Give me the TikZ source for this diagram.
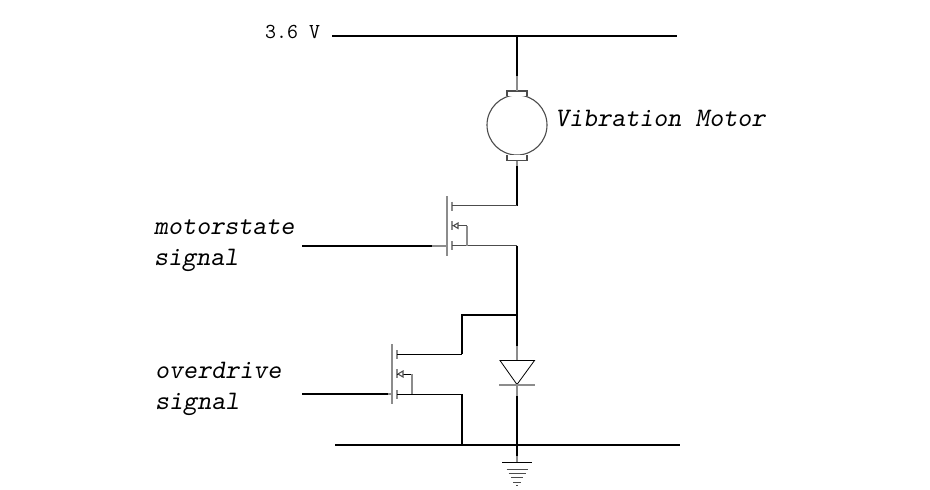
\documentclass[tikz,border=0pt]{standalone}
\usetikzlibrary{calc}
\tikzset{
	wire/.style={black, line width = 2pt},
	lead/.style={gray!90, line width = 2pt},
	thinwire/.style={black!70, line width = 1.2pt},
	part/.style={black!70, line width = 1.1pt},
	labeltext/.style={anchor=base west, inner sep=0pt, font=\fontsize{26.7}{28}\selectfont\ttfamily\slshape}
}
\begin{document}
\begin{tikzpicture}[x=1pt, y=-1pt]
	\useasboundingbox (0,0) rectangle (930,490);
	\fill[white] (0,0) rectangle (930,490);
	% rails and junctions
	\coordinate (railtopl) at (332,36);
	\coordinate (railtopr) at (677,36);
	\coordinate (railbotl) at (335,445);
	\coordinate (railbotr) at (680,445);
	\coordinate (topjoin) at (517,36);
	\coordinate (botjoin) at (517,445);
	\coordinate (tapjoin) at (517,315);
	\coordinate (tapcorner) at (462,315);
	\draw[wire](railtopl)--(railtopr);
	\draw[wire](railbotl)--(railbotr);
	\node[anchor=base west, inner sep=0pt, font=\fontsize{21.3}{22}\selectfont\ttfamily] (supply) at (265,38) {3.6 V};

	% motor
	\coordinate (motorin) at (517,76);
	\coordinate (motortop) at (517,91);
	\coordinate (motorbot) at (517,161);
	\coordinate (motorout) at (517,166);
	\node[circle, draw=black!70, line width=1.1pt, minimum size=60pt, inner sep=0pt] (motor) at (517,125) {};
	\draw[part, fill=white](507,96)--(507,91)--(527,91)--(527,96);
	\draw[part, fill=white](507,155)--(507,160.5)--(527,160.5)--(527,155);
	\draw[wire](topjoin)--(motorin);
	\draw[lead](motorin)--(motortop);
	\draw[lead](motorbot)--(motorout);
	\node[labeltext] (motorlabel) at (555,126) {Vibration Motor};

	% upper transistor
	\coordinate (upd) at (452,205.7);
	\coordinate (upb) at (452,225.7);
	\coordinate (ups) at (452,245.7);
	\coordinate (updr) at (517,205.7);
	\coordinate (upsr) at (517,245.7);
	\coordinate (upbr) at (467,225.7);
	\coordinate (upbs) at (467,245.7);
	\coordinate (upgate) at (447,245.7);
	\coordinate (upgatei) at (432,245.7);
	\coordinate (upsig) at (302,245.7);
	\draw[lead](447,196)--(447,256);
	\foreach \y in {201.7,221,241}
	\draw[lead] (452,\y)--(452,\y+9);
	\draw[wire](motorout)--(updr);
	\draw[thinwire](upd)--(updr);
	\draw[thinwire](ups)--(upsr);
	\draw[thinwire](upb)--(upbr);
	\draw[lead, line width = 1.5pt](upbr)--(upbs);
	\draw[part, fill=white](453.5,225.7)--(458,223)--(458,228.4)--cycle;
	\draw[wire](upsig)--(upgatei);
	\draw[lead](upgatei)--(upgate);
	\draw[wire](upsr)--(tapjoin);
	\node[labeltext] (motorsig) at (154,234) {motorstate};
	\node[labeltext] (motorsigb) at (154,265) {signal};

	% lower transistor
	\coordinate (lod) at (397,354);
	\coordinate (lob) at (397,374);
	\coordinate (los) at (397,394);
	\coordinate (lodr) at (462,354);
	\coordinate (losr) at (462,394);
	\coordinate (lobr) at (412,374);
	\coordinate (lobs) at (412,394);
	\coordinate (logate) at (392,394);
	\coordinate (logatei) at (388,394);
	\coordinate (losig) at (302,394);
	\coordinate (lobot) at (462,445);
	\draw[lead](392,344)--(392,404);
	\foreach \y in {350,369,390}
	\draw[lead] (397,\y)--(397,\y+9);
	\draw[black, line width = 0.9pt](lod)--(lodr);
	\draw[black, line width = 0.9pt](los)--(losr);
	\draw[black, line width = 0.9pt](lob)--(lobr);
	\draw[lead, line width = 1.5pt](lobr)--(lobs);
	\draw[part, fill=white](398,374)--(403,371)--(403,377)--cycle;
	\draw[wire](losig)--(logatei);
	\draw[lead](logatei)--(logate);
	\draw[wire](lodr)--(tapcorner)--(tapjoin);
	\draw[wire](losr)--(lobot);
	\node[labeltext] (drivesig) at (155,378) {overdrive};
	\node[labeltext] (drivesigb) at (155,409) {signal};

	% diode
	\coordinate (diodein) at (517,346);
	\coordinate (diodetop) at (517,360.5);
	\coordinate (diodetip) at (517,384.5);
	\coordinate (diodeout) at (517,396);
	\draw[wire](tapjoin)--(diodein);
	\draw[lead](diodein)--(diodetop);
	\draw[black, line width = 0.8pt](500,360.5)--(534.5,360.5)--(diodetip)--cycle;
	\draw[lead, line width = 1.5pt](499,385)--(535,385);
	\draw[lead](diodetip)--(diodeout);
	\draw[wire](diodeout)--(botjoin);

	% ground
	\coordinate (gndin) at (517,456);
	\coordinate (gndtop) at (517,462);
	\draw[wire](botjoin)--(gndin);
	\draw[lead](gndin)--(gndtop);
	\draw[black, line width = 1pt](502,462)--(532,462);
	\foreach \y/\w in {469/10.5, 473/8.5, 477/6, 482/4, 485/1}
	\draw[black!70, line width = 1pt] (517-\w,\y)--(517+\w,\y);
\end{tikzpicture}
\end{document}
